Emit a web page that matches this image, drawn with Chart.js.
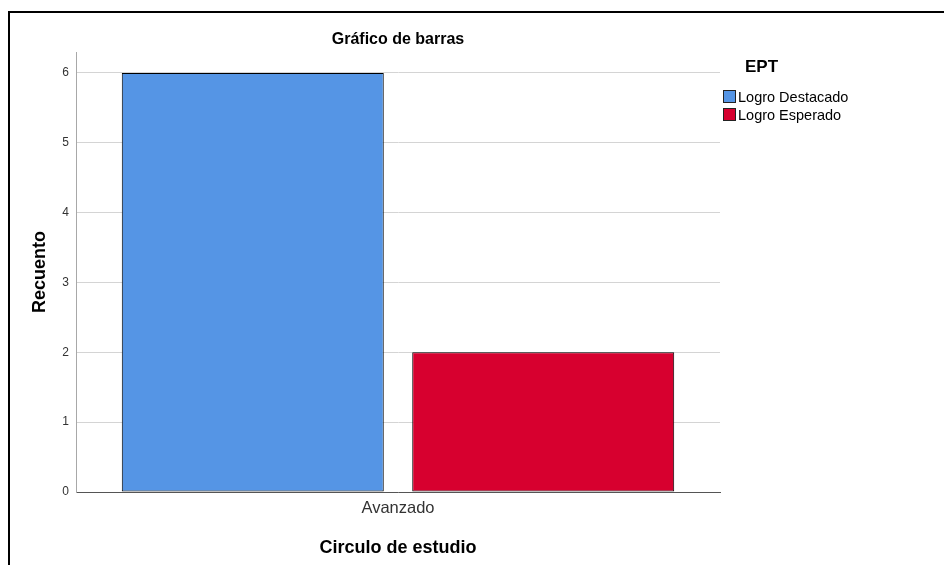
<!DOCTYPE html>
<html>
<head>
<meta charset="utf-8">
<script src="https://cdn.jsdelivr.net/npm/chart.js@4.4.0/dist/chart.umd.min.js"></script>
<style>
  html, body { margin: 0; padding: 0; background: #fff; overflow: hidden; }
  #wrap { position: relative; width: 944px; height: 565px; font-family: "Liberation Sans", Arial, sans-serif; }
  #myChart { position: absolute; left: 0; top: 0; }
  .frame { position: absolute; left: 8px; top: 11px; width: 1000px; height: 600px;
           border-left: 2px solid #000; border-top: 2px solid #000; }
  #legend { position: absolute; left: 723px; top: 58px; color: #000; }
  #legend .ttl { font-weight: bold; font-size: 17px; position: absolute; left: 22px; top: -1px; }
  #legend .item { position: absolute; left: 0; font-size: 14.5px; white-space: nowrap; line-height: 16px; }
  #legend .sw { display: inline-block; width: 11px; height: 11px; border: 1px solid #222;
                vertical-align: -1px; margin-right: 2px; }
</style>
</head>
<body>
<div id="wrap">
  <div class="frame"></div>
  <canvas id="myChart" width="944" height="565"></canvas>
  <div id="legend"></div>
</div>
<script>
var categories = ['Avanzado']
var legendTitle = 'EPT'
var seriesNames = ['Logro Destacado', 'Logro Esperado']
var destacado = [6]
var esperado = [2]
var seriesColors = ['#5595e5', '#d7002f']

var chartField = document.querySelector('#myChart').getContext('2d')

var options = {
  responsive: false,
  animation: false,
  layout: { padding: { left: 0, right: 224, top: 0, bottom: 0 } },
  plugins: {
    legend: { display: false },
    tooltip: { enabled: false },
    title: {
      display: true,
      text: 'Gráfico de barras',
      fullSize: false,
      color: '#000',
      font: { family: 'Liberation Sans', size: 16, weight: 'bold' },
      padding: { top: 30.4, bottom: 2.4 }
    }
  },
  scales: {
    x: {
      grid: { display: false, drawTicks: false },
      border: { color: '#555' },
      ticks: { color: '#333', padding: 7, font: { family: 'Liberation Sans', size: 16.5 } },
      title: {
        display: true,
        text: 'Circulo de estudio',
        color: '#000',
        font: { family: 'Liberation Sans', size: 18, weight: 'bold' },
        padding: { top: 0, bottom: 6 }
      },
      afterFit: function (scale) { scale.height = 73 }
    },
    y: {
      min: 0,
      max: 6.3,
      grid: { color: '#d4d4d4', drawTicks: false },
      border: { color: '#a8a8a8' },
      ticks: { stepSize: 1, includeBounds: false, color: '#333', padding: 7,
               font: { family: 'Liberation Sans', size: 12 } },
      title: {
        display: true,
        text: 'Recuento',
        color: '#000',
        font: { family: 'Liberation Sans', size: 18, weight: 'bold' },
        padding: { top: 29, bottom: 0 }
      },
      afterFit: function (scale) { scale.width = 76 }
    }
  }
}

var myChart = new Chart(chartField, {
  type: 'bar',
  data: {
    labels: categories,
    datasets: [{
      label: seriesNames[0],
      data: destacado,
      backgroundColor: seriesColors[0],
      borderColor: '#000',
      borderWidth: 1,
      borderSkipped: false,
      categoryPercentage: 0.902,
      barPercentage: 0.902
    }, {
      label: seriesNames[1],
      data: esperado,
      backgroundColor: seriesColors[1],
      borderColor: '#000',
      borderWidth: 1,
      borderSkipped: false,
      categoryPercentage: 0.902,
      barPercentage: 0.902
    }]
  },
  options: options
})

// legend built from the dataset names/colours
var legendBox = document.querySelector('#legend')
var html = '<div class="ttl">' + legendTitle + '</div>'
myChart.data.datasets.forEach(function (ds, i) {
  html += '<div class="item" style="top:' + (31 + i * 18) + 'px"><span class="sw" style="background:' +
    ds.backgroundColor + '"></span>' + ds.label + '</div>'
})
legendBox.innerHTML = html
</script>
</body>
</html>
